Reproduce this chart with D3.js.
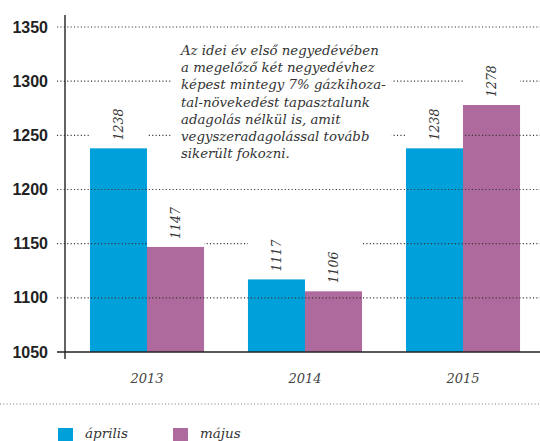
<!DOCTYPE html>
<html>
<head>
<meta charset="utf-8">
<script src="https://cdn.jsdelivr.net/npm/d3@7/dist/d3.min.js"></script>
<style>
  html, body { margin: 0; padding: 0; background: #fff; }
  svg { display: block; }
</style>
</head>
<body>
<svg id="chart" width="540" height="441"></svg>
<script>
// Gázkihozatal havonta (április / május), évenként
const years = ["2013", "2014", "2015"];
const seriesNames = ["április", "május"];
const aprilis = [1238, 1117, 1238];
const majus = [1147, 1106, 1278];
const yTicks = [1050, 1100, 1150, 1200, 1250, 1300, 1350];
const noteLines = [
  "Az idei év első negyedévében",
  "a megelőző két negyedévhez",
  "képest mintegy 7% gázkihoza-",
  "tal-növekedést tapasztalunk",
  "adagolás nélkül is, amit",
  "vegyszeradagolással tovább",
  "sikerült fokozni."
];

const colors = { "április": "#00a1db", "május": "#ae6a9c" };
const serif = "'DejaVu Serif', serif";
const sans = "'Liberation Sans', Arial, sans-serif";

const rows = years.map((yr, i) => ({ year: yr, values: [
  { key: "április", value: aprilis[i] },
  { key: "május", value: majus[i] }
]}));

const svg = d3.select("#chart");
const axisX = 65, baseY = 352, topY = 27;

const y = d3.scaleLinear().domain([1050, 1350]).range([baseY, topY]);
const x0 = d3.scaleBand().domain(years).range([68, 542]).paddingInner(0.278).paddingOuter(0.139);
const x1 = d3.scaleBand().domain(seriesNames).range([0, x0.bandwidth()]);

// Layers: bars, gridlines over them, then labels on white backing
const barLayer = svg.append("g");
const gridLayer = svg.append("g");
const labelLayer = svg.append("g");

const groups = barLayer.selectAll("g").data(rows).join("g")
  .attr("transform", d => `translate(${x0(d.year)},0)`);
groups.selectAll("rect").data(d => d.values).join("rect")
  .attr("x", d => x1(d.key))
  .attr("y", d => y(d.value))
  .attr("width", x1.bandwidth())
  .attr("height", d => y(1050) - y(d.value))
  .attr("fill", d => colors[d.key]);

gridLayer.selectAll("line").data(yTicks.filter(t => t > 1050)).join("line")
  .attr("x1", 57).attr("x2", 540)
  .attr("y1", d => y(d)).attr("y2", d => y(d))
  .attr("stroke", "#333").attr("stroke-width", 1.1)
  .attr("stroke-dasharray", "1.1 2.3");

// Y axis labels
const yAxis = d3.axisLeft(y).tickValues(yTicks).tickSize(0).tickPadding(17)
  .tickFormat(d3.format("d"));
const gy = svg.append("g").attr("transform", `translate(${axisX},0)`).call(yAxis);
gy.select(".domain").remove();
gy.selectAll("text").attr("font-family", sans).attr("font-weight", "bold")
  .attr("font-size", 16).attr("fill", "#222");

// Axis lines
svg.append("line").attr("x1", axisX).attr("x2", axisX).attr("y1", 15).attr("y2", 359)
  .attr("stroke", "#222").attr("stroke-width", 1.4);
svg.append("line").attr("x1", 57).attr("x2", 540).attr("y1", baseY).attr("y2", baseY)
  .attr("stroke", "#222").attr("stroke-width", 1.4);

// Value labels
const labelGap = 8;
const labGroups = labelLayer.selectAll("g").data(rows).join("g")
  .attr("transform", d => `translate(${x0(d.year)},0)`);
labGroups.selectAll("g").data(d => d.values).join("g").each(function(d) {
  const g = d3.select(this);
  const cx = x1(d.key) + x1.bandwidth() / 2;
  const y0 = y(d.value) - labelGap;
  const t = g.append("text")
    .attr("transform", `translate(${cx},${y0}) rotate(-90)`)
    .attr("dy", "0.36em")
    .attr("font-family", serif).attr("font-style", "italic")
    .attr("font-size", 12.5).attr("fill", "#333")
    .text(d.value);
  const len = t.node().getComputedTextLength();
  g.insert("rect", "text")
    .attr("x", x1(d.key)).attr("width", x1.bandwidth())
    .attr("y", y0 - len - 10).attr("height", len + 10 + labelGap - 0.5)
    .attr("fill", "#fff");
});

// Year labels
const xAxis = d3.axisBottom(x0).tickSize(0).tickPadding(0);
const gx = svg.append("g").attr("transform", `translate(0,${baseY})`).call(xAxis);
gx.select(".domain").remove();
gx.selectAll("text").attr("y", 31).attr("dy", 0)
  .attr("font-family", serif).attr("font-style", "italic")
  .attr("font-size", 13).attr("fill", "#444");

// Note
const note = svg.append("g");
const noteBg = note.append("rect").attr("fill", "#fff");
const noteText = note.append("text")
  .attr("font-family", serif).attr("font-style", "italic")
  .attr("font-size", 13.3).attr("fill", "#333");
noteText.selectAll("tspan").data(noteLines).join("tspan")
  .attr("x", 181).attr("y", (d, i) => 55 + i * 17.2).text(d => d);
const bb = noteText.node().getBBox();
noteBg.attr("x", bb.x - 7).attr("y", bb.y - 4).attr("width", bb.width + 13).attr("height", bb.height + 8);

// Separator and legend
svg.append("line").attr("x1", 0).attr("x2", 540).attr("y1", 404).attr("y2", 404)
  .attr("stroke", "#777").attr("stroke-width", 1).attr("stroke-dasharray", "1 2.3");
const legendX = [58, 173];
const leg = svg.append("g").selectAll("g").data(seriesNames).join("g")
  .attr("transform", (d, i) => `translate(${legendX[i]},428)`);
leg.append("rect").attr("width", 15).attr("height", 13).attr("fill", d => colors[d]);
leg.append("text").attr("x", 27).attr("y", 10)
  .attr("font-family", serif).attr("font-style", "italic")
  .attr("font-size", 13.5).attr("fill", "#333").text(d => d);
</script>
</body>
</html>
